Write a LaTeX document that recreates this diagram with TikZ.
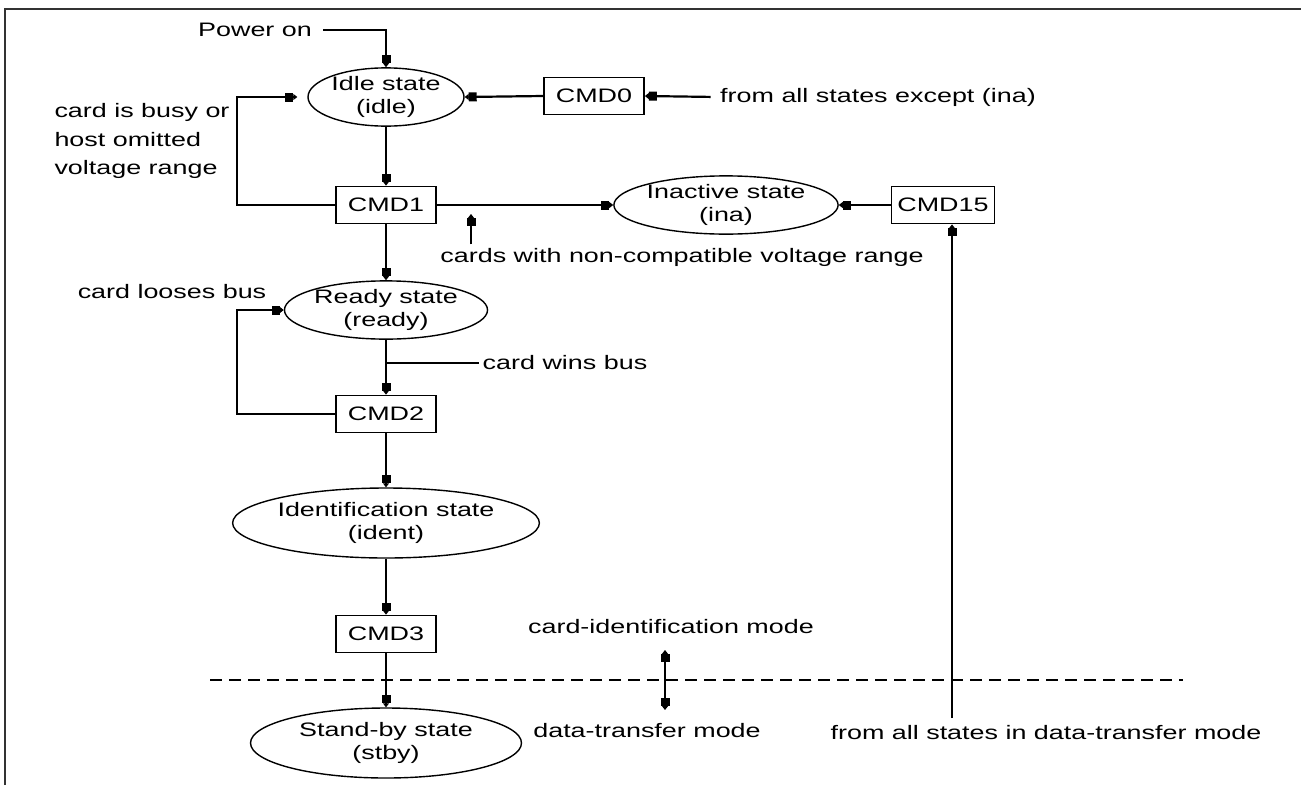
\documentclass[tikz,border=0pt]{standalone}
\usepackage{fontspec}
\setmainfont{Liberation Sans}[FakeStretch=1.38]
\usetikzlibrary{positioning, arrows.meta, shapes.geometric}

\tikzset{
  st/.style={draw, ellipse, line width=1.4pt, minimum width=#1, minimum height=58pt,
             inner sep=0pt, align=center, font=\fontsize{19.5}{23}\selectfont},
  cmd/.style={draw, rectangle, line width=1.8pt, minimum width=100pt, minimum height=37pt,
              inner sep=0pt, font=\fontsize{19.5}{23}\selectfont},
  lbl/.style={align=left, font=\fontsize{19.5}{28.5}\selectfont},
  blk/.tip={Rectangle[length=8pt,width=9pt]Triangle[length=4pt,width=6pt]},
  arr/.style={line width=2.2pt, -blk},
  darr/.style={line width=2.2pt, blk-blk},
  ln/.style={line width=2.2pt}
}

\begin{document}
\begin{tikzpicture}[x=1pt, y=-1pt]
                \useasboundingbox (0,0) rectangle (1301,785);
                \draw[line width=2.5pt, black!80] (5,785) -- (5,9) -- (1301,9);

                \node [lbl] (pwr) at (255,30) {Power on};
                \node [st=156] (idle) at (386,97) {Idle state\\(idle)};
                \node [cmd] (cmd0) at (594,96) {CMD0};
                \node [lbl] (except) at (878,97) {from all states except (ina)};
                \node [lbl] (busy) at (142,141) {card is busy or\\host omitted\\voltage range};
                \node [cmd] (cmd1) at (386,205) {CMD1};
                \node [st=188] (ina) at (726,205) {Inactive state\\(ina)};
                \node [cmd, minimum width=103pt] (cmd15) at (943,205) {CMD15};
                \node [lbl] (ncv) at (682,257) {cards with non-compatible voltage range};
                \node [lbl] (looses) at (172,292) {card looses bus};
                \node [st=188, minimum height=56pt] (ready) at (386,310) {Ready state\\(ready)};
                \node [lbl] (wins) at (565,363) {card wins bus};
                \node [cmd] (cmd2) at (386,414) {CMD2};
                \node [st=271, minimum height=70pt] (ident) at (386,523) {Identification state\\(ident)};
                \node [cmd] (cmd3) at (386,634) {CMD3};
                \node [st=271, minimum height=70pt] (stby) at (386,743) {Stand-by state\\(stby)};
                \node [lbl] (cimode) at (671,627) {card-identification mode};
                \node [lbl] (dtmode) at (647,731) {data-transfer mode};
                \node [lbl] (alldt) at (1046,733) {from all states in data-transfer mode};

                \coordinate (busyturn) at (237,205);
                \coordinate (looseturn) at (237,414);
                \coordinate (ncvtip) at (471,214);
                \coordinate (winsjoin) at (386,363);
                \coordinate (dtfoot) at (952,718);
                \coordinate (modetop) at (665,650);
                \coordinate (modebot) at (665,710);

                \draw[arr, shorten <=8pt] (pwr.east) -| (idle.north);
                \draw[arr] (cmd0.west) -- (idle.east);
                \draw[arr, shorten <=6pt] (except.west) -- (cmd0.east);
                \draw[arr] (idle.south) -- (cmd1.north);
                \draw[arr, shorten >=10pt] (cmd1.west) -- (busyturn) |- (idle.west);
                \draw[arr] (cmd1.east) -- (ina.west);
                \draw[arr] (ncvtip |- ncv.north) -- (ncvtip);
                \draw[arr] (cmd15.west) -- (ina.east);
                \draw[arr] (dtfoot) -- (dtfoot |- cmd15.south);
                \draw[arr] (cmd1.south) -- (ready.north);
                \draw[arr] (cmd2.west) -- (looseturn) |- (ready.west);
                \draw[arr] (ready.south) -- (cmd2.north);
                \draw[ln] (winsjoin) -- (wins.west);
                \draw[arr] (cmd2.south) -- (ident.north);
                \draw[arr] (ident.south) -- (cmd3.north);
                \draw[arr] (cmd3.south) -- (stby.north);
                \draw[line width=1.8pt, dash pattern=on 12pt off 7pt] (210,680) -- (1183,680);
                \draw[darr] (modetop) -- (modebot);
            \end{tikzpicture}
\end{document}
